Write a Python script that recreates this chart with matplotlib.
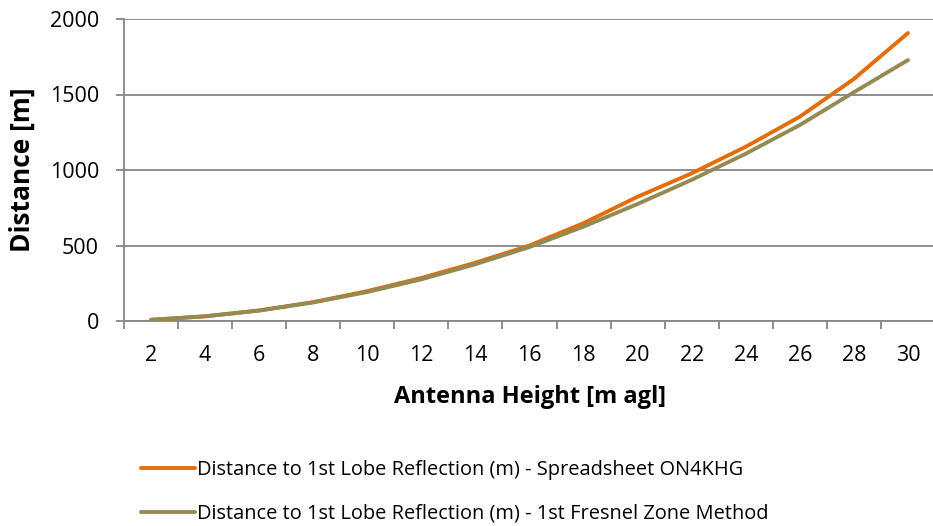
import numpy as np
import matplotlib
matplotlib.use("Agg")
import matplotlib.pyplot as plt

# values
heights = [2, 4, 6, 8, 10, 12, 14, 16, 18, 20, 22, 24, 26, 28, 30]
spreadsheet = [8, 31, 70, 125, 198, 285, 386, 500, 648, 823, 978, 1154, 1353, 1603, 1907]
fresnel = [8, 31, 69, 123, 192, 276, 376, 490, 625, 775, 935, 1108, 1298, 1515, 1728]

label_a = "Distance to 1st Lobe Reflection (m) - Spreadsheet ON4KHG"
label_b = "Distance to 1st Lobe Reflection (m) - 1st Fresnel Zone Method"

plt.rcParams['font.family'] = ['Open Sans', 'DejaVu Sans']
grid_col = "#868686"

fig = plt.figure(figsize=(9.33, 5.26), dpi=100)
ax = fig.add_axes([124 / 933, 1 - 321 / 526, 811 / 933, 302 / 526])

x = np.arange(len(heights))
ax.plot(x, spreadsheet, color="#E46C0A", lw=2.8, label=label_a, solid_capstyle="round", zorder=3)
ax.plot(x, fresnel, color="#948A54", lw=2.8, label=label_b, solid_capstyle="round", zorder=4)

ax.set_xlim(-0.5, len(heights) - 0.5)
ax.set_ylim(0, 2000)
ax.set_yticks([0, 500, 1000, 1500, 2000])
ax.yaxis.grid(True, color=grid_col, lw=1.3)
ax.set_axisbelow(True)

# category axis: ticks between categories, labels in the middle
ax.set_xticks(np.arange(-0.5, len(heights), 1.0))
ax.set_xticklabels([])
ax.set_xticks(x, minor=True)
ax.set_xticklabels([str(h) for h in heights], minor=True)
ax.tick_params(axis="x", which="major", length=6, width=1.3, color=grid_col)
ax.tick_params(axis="x", which="minor", length=0, pad=17, labelsize=15.5)
ax.tick_params(axis="y", length=6, width=1.3, color=grid_col, labelsize=15.5, pad=12)

for s in ["top", "right"]:
    ax.spines[s].set_visible(False)
for s in ["left", "bottom"]:
    ax.spines[s].set_color(grid_col)
    ax.spines[s].set_linewidth(1.3)

ax.set_xlabel("Antenna Height [m agl]", fontsize=17, fontweight="bold", labelpad=14)
ax.set_ylabel("Distance [m]", fontsize=19, fontweight="bold", labelpad=10)

fig.legend(loc="upper left", bbox_to_anchor=(123 / 933, 1 - 442 / 526), frameon=False,
           fontsize=14.4, handlelength=2.7, handletextpad=0.12, labelspacing=1.18)

fig.savefig("out.png", dpi=100)
